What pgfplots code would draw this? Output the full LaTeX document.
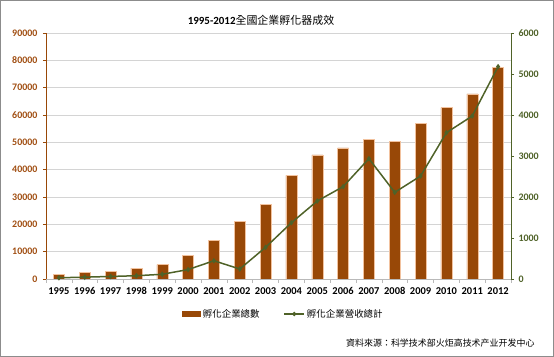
\documentclass[border=0pt]{standalone}
\usepackage{fontspec}
\setmainfont{Carlito}
\newfontfamily\cjk{Noto Sans CJK TC}
\usepackage{pgfplots}
\usepackage{pgfplotstable}
\pgfplotsset{compat=1.18}
\definecolor{barc}{HTML}{984807}
\definecolor{baredge}{HTML}{F2C29E}
\definecolor{linec}{HTML}{4F6228}
\definecolor{lblL}{HTML}{A04E12}
\definecolor{gridc}{HTML}{D4D4D4}
\definecolor{framec}{HTML}{8C8C8C}

\pgfplotstableread{
x year firms revenue
0  1995 1720  30
1  1996 2450  45
2  1997 2670  62
3  1998 4020  80
4  1999 5230  115
5  2000 8530  230
6  2001 14150 445
7  2002 20970 244
8  2003 27320 773
9  2004 37940 1373
10 2005 45370 1902
11 2006 47930 2252
12 2007 51100 2935
13 2008 50380 2114
14 2009 56960 2512
15 2010 62690 3569
16 2011 67690 3976
17 2012 77450 5179
}\datatable

\begin{document}
\begin{tikzpicture}
\useasboundingbox (-46bp,-78bp) rectangle (508bp,279bp);
\draw[framec, line width=0.8bp] (-45.6bp,-77.6bp) rectangle (507.6bp,278.6bp);

\begin{axis}[
  at={(0,0)}, anchor=south west,
  width=465bp, height=246bp, scale only axis,
  xmin=-0.5, xmax=17.5,
  ymin=0, ymax=90000,
  ytick={0,10000,...,90000},
  scaled y ticks=false,
  /pgf/number format/assume math mode=true,
  /pgf/number format/1000 sep={},
  axis y line*=left,
  axis x line*=bottom,
  y axis line style={barc, line width=0.9bp, -},
  x axis line style={gray!55, line width=0.8bp, -},
  tick align=outside,
  major tick length=3bp,
  ytick style={barc, line width=0.8bp},
  yticklabel style={text=lblL, font=\fontsize{10}{11}\selectfont\bfseries, xshift=-2bp},
  xtick={0,...,17},
  xticklabels={1995,1996,1997,1998,1999,2000,2001,2002,2003,2004,2005,2006,2007,2008,2009,2010,2011,2012},
  major x tick style={draw=none},
  minor xtick={-0.5,0.5,...,17.5},
  minor x tick style={gray!55, line width=0.6bp},
  minor tick length=3.5bp,
  xticklabel style={font=\fontsize{10.5}{11}\selectfont\bfseries, yshift=-2bp},
  ymajorgrids,
  major grid style={gridc, line width=0.9bp},
  legend style={at={(237.5bp,-35bp)}, anchor=center, draw=none, fill=none,
    legend columns=2, font=\cjk\fontsize{9.5}{11}\selectfont,
    /tikz/every even column/.append style={column sep=22bp}},
  legend cell align=left,
]
\addplot[ybar, bar width=11bp, fill=barc, draw=baredge, line width=0.5bp,
  legend image code/.code={\fill[barc] (0bp,-2.7bp) rectangle (18bp,2.7bp);}]
  table[x=x, y=firms] {\datatable};
\addlegendentry{孵化企業總數}
\addlegendimage{linec, line width=1.3bp, mark=diamond*, mark size=1.6bp,
  legend image code/.code={\draw[linec, line width=1.3bp] (0bp,0bp) -- (20bp,0bp); \fill[linec] (10bp,0bp) circle (1.4bp);}}
\addlegendentry{孵化企業營收總計}
\end{axis}

\begin{axis}[
  at={(0,0)}, anchor=south west,
  width=465bp, height=246bp, scale only axis,
  xmin=-0.5, xmax=17.5,
  ymin=0, ymax=6000,
  ytick={0,1000,...,6000},
  scaled y ticks=false,
  /pgf/number format/assume math mode=true,
  /pgf/number format/1000 sep={},
  axis y line*=right,
  axis x line=none,
  y axis line style={linec, line width=0.9bp, -},
  tick align=outside,
  major tick length=3bp,
  ytick style={linec, line width=0.8bp},
  yticklabel style={text=linec, font=\fontsize{10}{11}\selectfont\bfseries, xshift=1bp},
]
\addplot[linec, line width=1.5bp, mark=diamond*, mark size=1.6bp,
  mark options={fill=linec, draw=linec}]
  table[x=x, y=revenue] {\datatable};
\end{axis}

\node[font=\fontsize{11}{12}\selectfont\bfseries] at (215bp,258.5bp)
  {1995-2012{\cjk\mdseries 全國企業孵化器成效}};
\node[anchor=east, font=\cjk\fontsize{9}{10}\selectfont] at (492bp,-64bp)
  {資料來源：科学技术部火炬高技术产业开发中心};
\end{tikzpicture}
\end{document}
